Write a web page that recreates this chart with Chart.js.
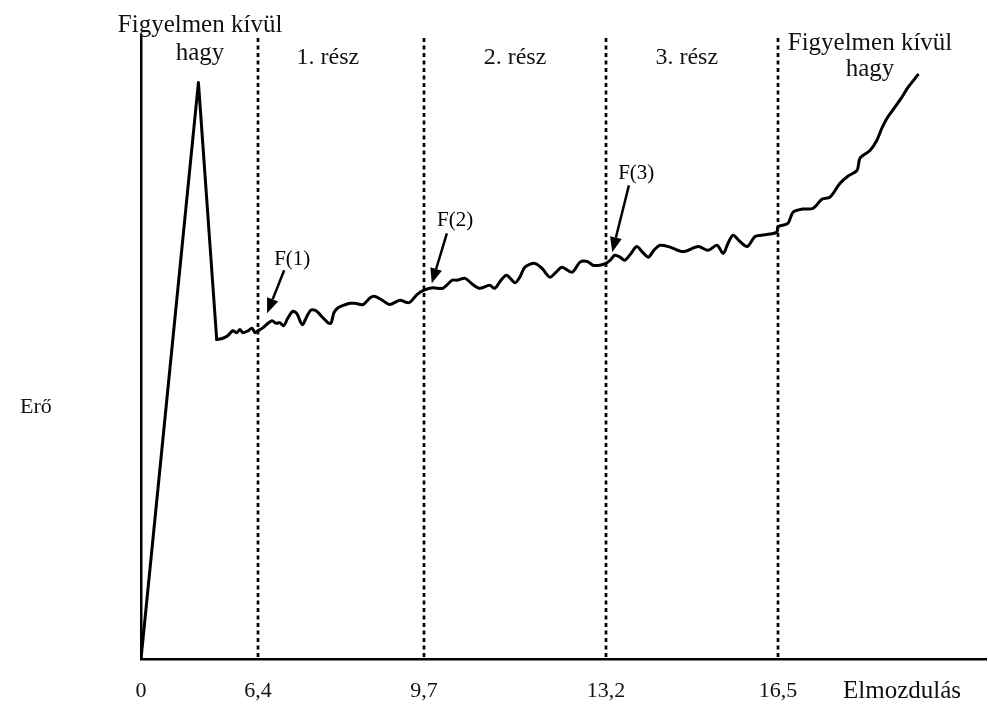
<!DOCTYPE html>
<html>
<head>
<meta charset="utf-8">
<script src="https://cdn.jsdelivr.net/npm/chart.js@4.4.1/dist/chart.umd.min.js"></script>
<style>
  html, body { margin: 0; padding: 0; background: #fff; }
  #wrap { width: 988px; height: 706px; position: relative; }
</style>
</head>
<body>
<div id="wrap"><canvas id="c" width="988" height="706"></canvas></div>
<script>
// ---- data ----
const displacement = [0,3.14,4.14,4.47,4.74,5.02,5.24,5.41,5.57,5.85,6.07,6.23,
  6.40,6.50,6.60,6.68,6.76,6.83,6.91,6.99,7.09,7.17,7.25,
  7.29,7.37,7.45,7.53,7.61,7.69,7.79,7.85,7.91,7.99,
  8.11,8.23,8.33,8.49,8.63,8.73,8.87,9.02,9.22,9.40,
  9.56,9.70,
  9.87,10.06,10.24,10.33,10.49,10.64,10.77,10.96,11.06,11.18,
  11.29,11.45,11.55,11.64,11.83,11.97,12.12,12.24,12.35,12.55,
  12.70,12.84,12.95,13.08,13.20,
  13.28,13.37,13.47,13.56,13.68,13.79,13.89,14.01,14.12,14.24,
  14.43,14.68,14.97,15.16,15.33,15.45,15.54,15.64,15.77,15.91,
  16.06,16.19,16.35,16.48,
  16.50,16.69,16.79,16.98,17.17,17.35,17.50,17.69,17.85,18.02,
  18.08,18.27,18.40,18.50,18.60,18.71,18.88,19.00,19.19];
const force = [0,92.4,51.2,51.4,51.8,52.6,52.3,52.8,52.3,52.6,53.0,52.3,
  52.6,53.1,53.8,54.2,53.8,53.9,53.4,54.6,55.7,55.4,53.9,
  53.6,54.9,55.9,55.9,55.4,54.7,53.9,53.8,55.5,56.3,
  56.7,57.0,57.0,56.8,57.9,58.1,57.5,56.8,57.5,57.1,
  58.4,59.1,
  59.5,59.4,60.7,60.7,61.0,60.0,59.4,59.9,59.4,60.7,
  61.5,60.3,61.3,62.8,63.4,62.6,61.2,62.0,62.8,62.0,
  63.6,63.7,63.1,63.1,63.4,
  63.9,64.7,64.4,63.9,65.0,66.1,65.3,64.4,65.5,66.3,
  66.0,65.3,66.1,65.5,66.3,65.0,66.6,67.9,66.9,66.1,
  67.7,67.9,68.1,68.4,
  69.3,69.8,71.6,72.1,72.2,73.7,74.0,76.2,77.4,78.3,
  80.3,81.5,83.1,85.1,86.7,88.0,90.0,91.6,93.6];
const spikeEnd = 2; // index where the sharp spike ends and the wavy part starts

const tickValues = [0, 6.4, 9.7, 13.2, 16.5];
const tickLabels = ['0', '6,4', '9,7', '13,2', '16,5'];
const boundaryValues = [6.4, 9.7, 13.2, 16.5];

const regionNames = [['Figyelmen kívül', 'hagy'], ['1. rész'], ['2. rész'], ['3. rész'], ['Figyelmen kívül', 'hagy']];
const regionCenters = [3.23, 7.79, 11.45, 14.75, 18.27];

const markerNames = ['F(1)', 'F(2)', 'F(3)'];
const markerTipX = [6.58, 9.85, 13.32];
const markerTipY = [55.4, 60.2, 65.2];
const markerTailX = [6.92, 10.14, 13.64];
const markerTailY = [62.3, 68.2, 75.9];
const markerLabelX = [7.08, 10.30, 13.78];
const markerLabelY = [64.0, 70.3, 77.8];

const xTitle = 'Elmozdulás';
const yTitle = 'Erő';

// ---- piecewise linear x scale (the schematic axis is compressed before 6,4) ----
class PiecewiseScale extends Chart.LinearScale {
  _frac(value) {
    const b = this.options.breaks, f = this.options.fractions;
    let i = 0;
    while (i < b.length - 2 && value > b[i + 1]) i++;
    return f[i] + (value - b[i]) * (f[i + 1] - f[i]) / (b[i + 1] - b[i]);
  }
  getPixelForValue(value) {
    return this.getPixelForDecimal(this._frac(value));
  }
  getValueForPixel(pixel) {
    const d = this.getDecimalForPixel(pixel);
    const b = this.options.breaks, f = this.options.fractions;
    let i = 0;
    while (i < f.length - 2 && d > f[i + 1]) i++;
    return b[i] + (d - f[i]) * (b[i + 1] - b[i]) / (f[i + 1] - f[i]);
  }
}
PiecewiseScale.id = 'piecewise';
PiecewiseScale.defaults = Chart.LinearScale.defaults;
Chart.register(PiecewiseScale);

const SERIF = '"Liberation Serif", "DejaVu Serif", serif';

const annotate = {
  id: 'annotate',
  afterDatasetsDraw(chart) {
    const {ctx, chartArea} = chart;
    const xs = chart.scales.x, ys = chart.scales.y;
    ctx.save();
    // dashed boundaries
    ctx.strokeStyle = '#000';
    ctx.lineWidth = 2.7;
    ctx.setLineDash([4, 3.5]);
    boundaryValues.forEach(v => {
      const px = Math.round(xs.getPixelForValue(v));
      ctx.beginPath();
      ctx.moveTo(px, chartArea.top + 3);
      ctx.lineTo(px, chartArea.bottom);
      ctx.stroke();
    });
    ctx.setLineDash([]);
    // arrows
    ctx.fillStyle = '#000';
    for (let i = 0; i < markerNames.length; i++) {
      const x1 = xs.getPixelForValue(markerTailX[i]), y1 = ys.getPixelForValue(markerTailY[i]);
      const x2 = xs.getPixelForValue(markerTipX[i]), y2 = ys.getPixelForValue(markerTipY[i]);
      const a = Math.atan2(y2 - y1, x2 - x1);
      const hl = 15, hw = 6;
      const bx = x2 - hl * Math.cos(a), by = y2 - hl * Math.sin(a);
      ctx.lineWidth = 2.5;
      ctx.beginPath(); ctx.moveTo(x1, y1); ctx.lineTo(bx, by); ctx.stroke();
      ctx.beginPath();
      ctx.moveTo(x2, y2);
      ctx.lineTo(bx + hw * Math.sin(a), by - hw * Math.cos(a));
      ctx.lineTo(bx - hw * Math.sin(a), by + hw * Math.cos(a));
      ctx.closePath(); ctx.fill();
      ctx.font = '21px ' + SERIF;
      ctx.textAlign = 'center';
      ctx.textBaseline = 'middle';
      ctx.fillText(markerNames[i], xs.getPixelForValue(markerLabelX[i]), ys.getPixelForValue(markerLabelY[i]));
    }
    // region names
    ctx.fillStyle = '#111';
    ctx.textAlign = 'center';
    ctx.textBaseline = 'alphabetic';
    const firstBase = [32, 64, 64, 64, 50];
    const gap = [28, 0, 0, 0, 26];
    regionNames.forEach((lines, i) => {
      const cx = xs.getPixelForValue(regionCenters[i]);
      lines.forEach((t, j) => {
        ctx.font = (lines.length === 1 ? '24px ' : '25px ') + SERIF;
        ctx.fillText(t, cx, firstBase[i] + j * gap[i]);
      });
    });
    // axis titles
    ctx.textAlign = 'left';
    ctx.font = '22px ' + SERIF;
    ctx.fillText(yTitle, 20, 413);
    ctx.font = '25px ' + SERIF;
    ctx.fillText(xTitle, 843, 698);
    ctx.restore();
  }
};

const points = displacement.map((x, i) => ({x, y: force[i]}));
const lineStyle = {
  borderColor: '#000',
  borderWidth: 3,
  pointRadius: 0,
  borderJoinStyle: 'round',
  borderCapStyle: 'round',
  fill: false
};

new Chart(document.getElementById('c'), {
  type: 'line',
  data: {
    datasets: [
      Object.assign({ data: points.slice(0, spikeEnd + 1), tension: 0 }, lineStyle),
      Object.assign({ data: points.slice(spikeEnd), tension: 0.3 }, lineStyle)
    ]
  },
  options: {
    responsive: false,
    animation: false,
    layout: { padding: { left: 141, top: 35, right: 2, bottom: 0 } },
    plugins: { legend: { display: false }, tooltip: { enabled: false } },
    scales: {
      x: {
        type: 'piecewise',
        min: 0, max: 20.5,
        breaks: [0, 6.4, 9.7, 13.2, 16.5, 20.5],
        fractions: [0, 0.1385, 0.3349, 0.5503, 0.7538, 1],
        afterBuildTicks: s => { s.ticks = tickValues.map(v => ({ value: v })); },
        afterFit: s => { s.height = 47; },
        grid: { display: false },
        border: { display: true, color: '#000', width: 2.5 },
        ticks: {
          autoSkip: false, maxRotation: 0,
          padding: 11,
          color: '#111',
          font: { family: SERIF, size: 22 },
          callback: (v, i) => tickLabels[i]
        }
      },
      y: {
        type: 'linear',
        min: 0, max: 100,
        grid: { display: false },
        border: { display: true, color: '#000', width: 2.5 },
        ticks: { display: false },
        afterFit: s => { s.width = 0; }
      }
    }
  },
  plugins: [annotate]
});
</script>
</body>
</html>
